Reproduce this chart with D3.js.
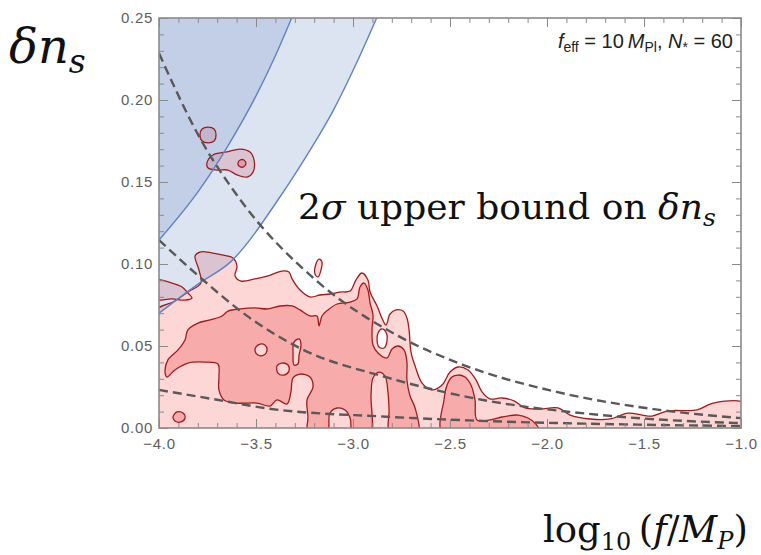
<!DOCTYPE html>
<html><head><meta charset="utf-8">
<script src="https://cdn.jsdelivr.net/npm/d3@7"></script>
<style>body{margin:0;background:#fff;} svg{display:block;}</style>
</head><body>
<svg id="c" width="761" height="555"></svg>
<script>
// ---------- data (log10(f/M_P), delta n_s) ----------
const xTickValues = [-4, -3.5, -3, -2.5, -2, -1.5, -1];
const yTickValues = [0, 0.05, 0.10, 0.15, 0.20, 0.25];

// blue exclusion bands (boundary curves)
const boundInner = [[-4,0.1146],[-3.79,0.1455],[-3.65,0.171],[-3.50,0.2025],[-3.40,0.227],[-3.316,0.25]];
const boundOuter = [[-4,0.070],[-3.79,0.0885],[-3.634,0.101],[-3.376,0.141],[-3.25,0.164],[-3.10,0.194],[-2.98,0.223],[-2.878,0.25]];

// grey dashed curves
const dashTop = [[-4,0.2285],[-3.79,0.177],[-3.58,0.139],[-3.19,0.090],[-2.76,0.0557],[-2.43,0.0384],[-1.95,0.022],[-1.45,0.0115],[-1,0.006]];
const dashMid = [[-4,0.1146],[-3.78,0.091],[-3.565,0.070],[-3.27,0.0485],[-2.83,0.031],[-2.33,0.0171],[-1.8,0.0088],[-1.4,0.005],[-1,0.003]];
const dashLow = [[-4,0.0232],[-3.7,0.0172],[-3.445,0.012],[-2.83,0.0069],[-2.3,0.0042],[-1.6,0.0022],[-1,0.0012]];

// outer (light) contour level
const outerLevel = [[-4.03,-0.004],[-4.03,0.0701],[-3.918,0.0774],[-3.851,0.0829],[-3.784,0.0884],[-3.794,0.0963],[-3.814,0.1049],[-3.789,0.1073],[-3.753,0.1073],[-3.675,0.1055],[-3.619,0.1037],[-3.598,0.0988],[-3.608,0.0927],[-3.577,0.0896],[-3.505,0.0909],[-3.438,0.0927],[-3.366,0.0957],[-3.330,0.0951],[-3.314,0.0909],[-3.273,0.0841],[-3.222,0.0799],[-3.170,0.0811],[-3.119,0.0817],[-3.067,0.0829],[-3.015,0.0835],[-2.985,0.0902],[-2.954,0.0945],[-2.923,0.0902],[-2.912,0.0829],[-2.876,0.0744],[-2.851,0.0671],[-2.830,0.0628],[-2.809,0.0695],[-2.778,0.0720],[-2.742,0.0713],[-2.722,0.0671],[-2.711,0.0598],[-2.701,0.0463],[-2.680,0.0378],[-2.644,0.0274],[-2.593,0.0232],[-2.541,0.0262],[-2.500,0.0341],[-2.459,0.0372],[-2.407,0.0354],[-2.366,0.0293],[-2.335,0.0220],[-2.294,0.0177],[-2.232,0.0183],[-2.170,0.0165],[-2.113,0.0122],[-2.036,0.0116],[-1.943,0.0122],[-1.881,0.0079],[-1.778,0.0055],[-1.675,0.0055],[-1.582,0.0091],[-1.510,0.0079],[-1.459,0.0073],[-1.376,0.0104],[-1.227,0.0110],[-1.144,0.0152],[-0.97,0.0146],[-0.97,-0.004]];

// inner (dark) contour level
const innerLevel = [[-3.959,0.0311],[-3.969,0.0341],[-3.954,0.0415],[-3.902,0.0476],[-3.866,0.0537],[-3.851,0.0598],[-3.799,0.0640],[-3.737,0.0659],[-3.675,0.0683],[-3.644,0.0713],[-3.582,0.0726],[-3.505,0.0732],[-3.438,0.0726],[-3.376,0.0744],[-3.314,0.0744],[-3.273,0.0720],[-3.222,0.0683],[-3.186,0.0683],[-3.175,0.0622],[-3.160,0.0683],[-3.129,0.0720],[-3.082,0.0756],[-3.015,0.0768],[-2.979,0.0787],[-2.964,0.0860],[-2.943,0.0884],[-2.923,0.0841],[-2.912,0.0762],[-2.897,0.0689],[-2.902,0.0598],[-2.897,0.0506],[-2.871,0.0457],[-2.825,0.0427],[-2.799,0.0482],[-2.768,0.0500],[-2.737,0.0476],[-2.722,0.0402],[-2.722,0.0293],[-2.706,0.0195],[-2.680,0.0122],[-2.665,-0.004],[-2.809,-0.004],[-2.814,0.0110],[-2.820,0.0220],[-2.835,0.0317],[-2.866,0.0341],[-2.897,0.0305],[-2.907,0.0201],[-2.912,-0.004],[-3.000,-0.004],[-3.015,0.0061],[-3.041,0.0110],[-3.082,0.0122],[-3.119,0.0091],[-3.134,-0.004],[-3.232,-0.004],[-3.232,0.0067],[-3.237,0.0171],[-3.206,0.0250],[-3.222,0.0311],[-3.273,0.0329],[-3.309,0.0305],[-3.320,0.0220],[-3.340,0.0146],[-3.392,0.0171],[-3.428,0.0134],[-3.495,0.0152],[-3.598,0.0152],[-3.665,0.0171],[-3.691,0.0232],[-3.691,0.0311],[-3.696,0.0390],[-3.763,0.0402],[-3.851,0.0396],[-3.918,0.0354]];
const domeLevel = [[-2.536,-0.004],[-2.531,0.0171],[-2.515,0.0262],[-2.490,0.0311],[-2.459,0.0323],[-2.423,0.0311],[-2.392,0.0262],[-2.371,0.0171],[-2.361,0.0049],[-2.294,0.0049],[-2.232,0.0067],[-2.149,0.0079],[-2.098,0.0061],[-2.057,0.0024],[-2.036,-0.004]];

// islands
const leftIsland = [[-4.03,0.0902],[-3.933,0.0884],[-3.881,0.0860],[-3.851,0.0823],[-3.830,0.0793],[-3.866,0.0780],[-3.933,0.0787],[-4.03,0.0787]];
const thinIsland = [[-3.191,0.1000],[-3.175,0.1030],[-3.160,0.1012],[-3.165,0.0963],[-3.180,0.0921],[-3.196,0.0939]];
const circleIsland = [[-3.789,0.1787],[-3.778,0.1823],[-3.747,0.1835],[-3.716,0.1823],[-3.706,0.1787],[-3.716,0.1750],[-3.747,0.1738],[-3.778,0.1750]];
const blobIsland = [[-3.753,0.1616],[-3.722,0.1665],[-3.649,0.1683],[-3.582,0.1701],[-3.531,0.1683],[-3.510,0.1634],[-3.515,0.1561],[-3.546,0.1530],[-3.598,0.1543],[-3.644,0.1573],[-3.701,0.1573],[-3.747,0.1585]];
const blobCore = [[-3.593,0.1616],[-3.582,0.1634],[-3.562,0.1634],[-3.552,0.1610],[-3.567,0.1591],[-3.588,0.1598]];
const smallLoop = [[-3.928,0.0067],[-3.907,0.0098],[-3.876,0.0091],[-3.866,0.0061],[-3.887,0.0037],[-3.918,0.0043]];
const hole1 = [[-3.500,0.0494],[-3.479,0.0512],[-3.454,0.0506],[-3.443,0.0476],[-3.459,0.0445],[-3.490,0.0445],[-3.505,0.0470]];
const hole2 = [[-3.392,0.0378],[-3.366,0.0396],[-3.335,0.0384],[-3.330,0.0348],[-3.356,0.0323],[-3.387,0.0335]];
const hole3 = [[-3.304,0.0524],[-3.278,0.0543],[-3.268,0.0506],[-3.278,0.0445],[-3.284,0.0390],[-3.304,0.0384],[-3.309,0.0445]];
const whiteHole = [[-2.871,0.0579],[-2.851,0.0604],[-2.830,0.0585],[-2.825,0.0530],[-2.840,0.0488],[-2.866,0.0494],[-2.876,0.0537]];

// ---------- drawing ----------
const LIGHT = "#fdd6d6", DARK = "#f8abab", RED = "#a01c1c", BLUE = "rgb(100,130,190)";
const svg = d3.select("#c");
const x = d3.scaleLinear().domain([-4, -1]).range([159, 741]);
const y = d3.scaleLinear().domain([0, 0.25]).range([428, 18]);

svg.append("defs").append("clipPath").attr("id", "plot")
  .append("rect").attr("x", x(-4)).attr("y", y(0.25)).attr("width", x(-1) - x(-4)).attr("height", y(0) - y(0.25));

const g = svg.append("g").attr("clip-path", "url(#plot)");
const closed = d3.line().x(d => x(d[0])).y(d => y(d[1])).curve(d3.curveCatmullRomClosed.alpha(0.5));
const smooth = d3.line().x(d => x(d[0])).y(d => y(d[1])).curve(d3.curveMonotoneX);
const bandArea = d3.area().x(d => x(d[0])).y0(d => y(d[1])).y1(y(0.27)).curve(d3.curveMonotoneX);

const fills = [
  [outerLevel, LIGHT], [leftIsland, LIGHT], [thinIsland, LIGHT], [circleIsland, LIGHT], [blobIsland, LIGHT],
  [blobCore, DARK], [innerLevel, DARK], [domeLevel, DARK], [smallLoop, DARK],
  [hole1, LIGHT], [hole2, LIGHT], [hole3, LIGHT], [whiteHole, "#ffffff"]
];
fills.forEach(([pts, col]) => g.append("path").attr("d", closed(pts)).attr("fill", col));

// blue exclusion regions (translucent, overlapping)
[boundOuter, boundInner].forEach(b => {
  g.append("path").attr("d", bandArea(b)).attr("fill", BLUE).attr("fill-opacity", 0.22);
});

// contour outlines
fills.forEach(([pts]) => g.append("path").attr("d", closed(pts))
  .attr("fill", "none").attr("stroke", RED).attr("stroke-width", 1.3));

// blue boundary lines
[boundOuter, boundInner].forEach(b => {
  g.append("path").attr("d", smooth(b)).attr("fill", "none").attr("stroke", "#5f82c4").attr("stroke-width", 1.4);
});

// dashed curves
[dashTop, dashMid, dashLow].forEach(d => {
  g.append("path").attr("d", smooth(d)).attr("fill", "none").attr("stroke", "#595959")
    .attr("stroke-width", 2.4).attr("stroke-dasharray", "9,5");
});

// ---------- axes ----------
const minorX = d3.range(-4, -0.95, 0.1);
const minorY = d3.range(0, 0.2501, 0.01);
const fmtX = d3.format(".1f"), fmtY = d3.format(".2f");
const FRAME = "#8a8a8a";

function styleAxis(sel) {
  sel.select(".domain").remove();
  sel.selectAll("line").attr("stroke", FRAME).attr("stroke-width", 1);
  sel.selectAll("text").attr("font-family", "Liberation Sans, Arial, sans-serif")
    .attr("font-size", 15).attr("fill", "#5e5e5e").attr("letter-spacing", "0.7px");
}
[[d3.axisBottom(x), 428, 0, minorX], [d3.axisTop(x), 18, 0, minorX],
 [d3.axisLeft(y), 0, 159, minorY], [d3.axisRight(y), 0, 741, minorY]]
.forEach(([ax, ty, tx, minor]) => {
  svg.append("g").attr("transform", `translate(${tx},${ty})`)
    .call(ax.tickValues(minor).tickSize(-5).tickSizeOuter(0).tickFormat(""))
    .call(styleAxis);
});
[[d3.axisBottom(x), 428, 0, xTickValues, fmtX, 10], [d3.axisTop(x), 18, 0, xTickValues, null, 4],
 [d3.axisLeft(y), 0, 159, yTickValues, fmtY, 6], [d3.axisRight(y), 0, 741, yTickValues, null, 4]]
.forEach(([ax, ty, tx, major, fmt, pad]) => {
  svg.append("g").attr("transform", `translate(${tx},${ty})`)
    .call(ax.tickValues(major).tickSize(-9).tickSizeOuter(0).tickPadding(pad).tickFormat(fmt ? fmt : ""))
    .call(styleAxis);
});
svg.append("rect").attr("x", x(-4)).attr("y", y(0.25)).attr("width", x(-1) - x(-4)).attr("height", y(0) - y(0.25))
  .attr("fill", "none").attr("stroke", FRAME).attr("stroke-width", 1.6);

// ---------- text ----------
function rich(xp, yp, size, family, parts, fill) {
  const t = svg.append("text").attr("x", xp).attr("y", yp).attr("font-family", family)
    .attr("font-size", size).attr("fill", fill || "#111");
  let shift = 0;
  parts.forEach(p => {
    const s = t.append("tspan").text(p.t);
    if (p.i) s.attr("font-style", "italic");
    const want = p.sub ? p.sub : 0;
    if (want !== shift) { s.attr("dy", want - shift); shift = want; }
    if (p.size) s.attr("font-size", p.size);
  });
  return t;
}
const SERIF = "DejaVu Serif, serif";
rich(9, 63, 48, SERIF,
  [{t: "δn", i: true}, {t: "s", i: true, sub: 10, size: 33}]);
rich(298, 219, 36, SERIF,
  [{t: "2"}, {t: "σ", i: true}, {t: " upper bound on "}, {t: "δn", i: true}, {t: "s", i: true, sub: 7, size: 25}]);
rich(543, 542, 37, SERIF,
  [{t: "log"}, {t: "10", sub: 8, size: 24}, {t: "\u2009("}, {t: "f", i: true}, {t: "/"}, {t: "M", i: true},
   {t: "P", i: true, sub: 7, size: 24}, {t: ")"}]);
rich(733, 48, 20, "Liberation Sans, Arial, sans-serif",
  [{t: "f", i: true}, {t: "eff", sub: 4, size: 14}, {t: " = 10\u2009"}, {t: "M", i: true}, {t: "Pl", sub: 4, size: 14},
   {t: ", "}, {t: "N", i: true}, {t: "*", sub: 4, size: 14}, {t: " = 60"}], "#222")
  .attr("text-anchor", "end");
</script>
</body></html>
